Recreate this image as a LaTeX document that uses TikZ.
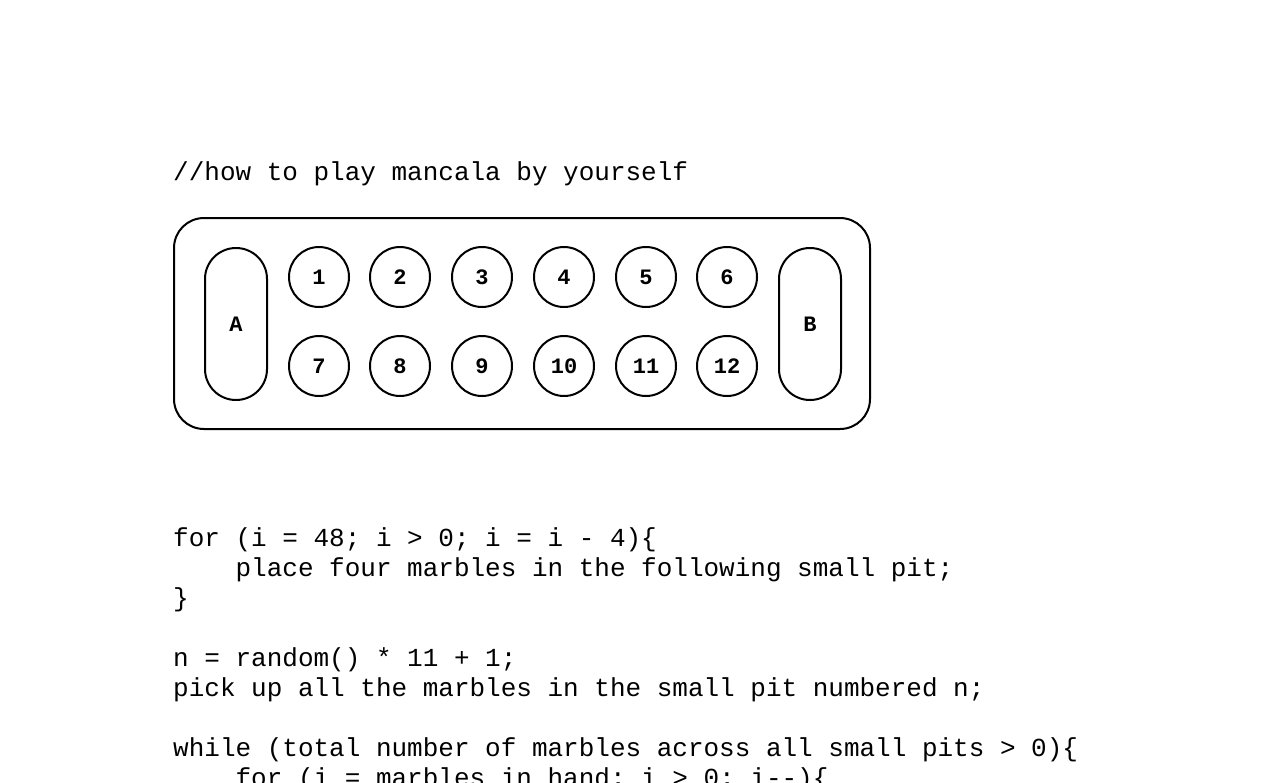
\documentclass[tikz,border=0pt]{standalone}
\usepackage{fontspec}
\setmonofont{Liberation Mono}
\begin{document}
\begin{tikzpicture}[x=1pt,y=-1pt,
  codeline/.style={anchor=base west,inner sep=0pt,font=\ttfamily\fontsize{26}{30}\selectfont},
  pit/.style={circle,draw,line width=2pt,minimum size=60pt,inner sep=0pt,text height=14pt,text depth=0pt,font=\ttfamily\bfseries\fontsize{22}{24}\selectfont},
  store/.style={rounded corners=31pt,draw,line width=2pt,minimum width=62pt,minimum height=152pt,inner sep=0pt,text height=14pt,text depth=0pt,font=\ttfamily\bfseries\fontsize{22}{24}\selectfont},
  board/.style={rounded corners=30pt,draw,line width=2pt,minimum width=696pt,minimum height=211pt,inner sep=0pt}]
\useasboundingbox (0,0) rectangle (1268,782);
\clip (0,0) rectangle (1268,782);
\node[codeline] (title) at (173,180) {//how to play mancala by yourself};
\node[board] (board) at (522,323.5) {};
\node[store] (A) at (236,324) {A};
\node[store] (B) at (810,324) {B};
\foreach \n/\x in {1/319,2/400,3/482,4/564,5/646,6/727}{
  \node[pit] (p\n) at (\x,277) {\n};
}
\foreach \n/\x in {7/319,8/400,9/482,10/564,11/646,12/727}{
  \node[pit] (p\n) at (\x,366) {\n};
}
\node[codeline] (l1) at (173,546) {for (i = 48; i > 0; i = i - 4)\{};
\node[codeline] (l2) at (173,576) {\phantom{xxxx}place four marbles in the following small pit;};
\node[codeline] (l3) at (173,606) {\}};
\node[codeline] (l4) at (173,666) {n = random() * 11 + 1;};
\node[codeline] (l5) at (173,696) {pick up all the marbles in the small pit numbered n;};
\node[codeline] (l6) at (173,756) {while (total number of marbles across all small pits > 0)\{};
\node[codeline] (l7) at (173,786) {\phantom{xxxx}for (i = marbles in hand; i > 0; i-{}-)\{};
\end{tikzpicture}
\end{document}
